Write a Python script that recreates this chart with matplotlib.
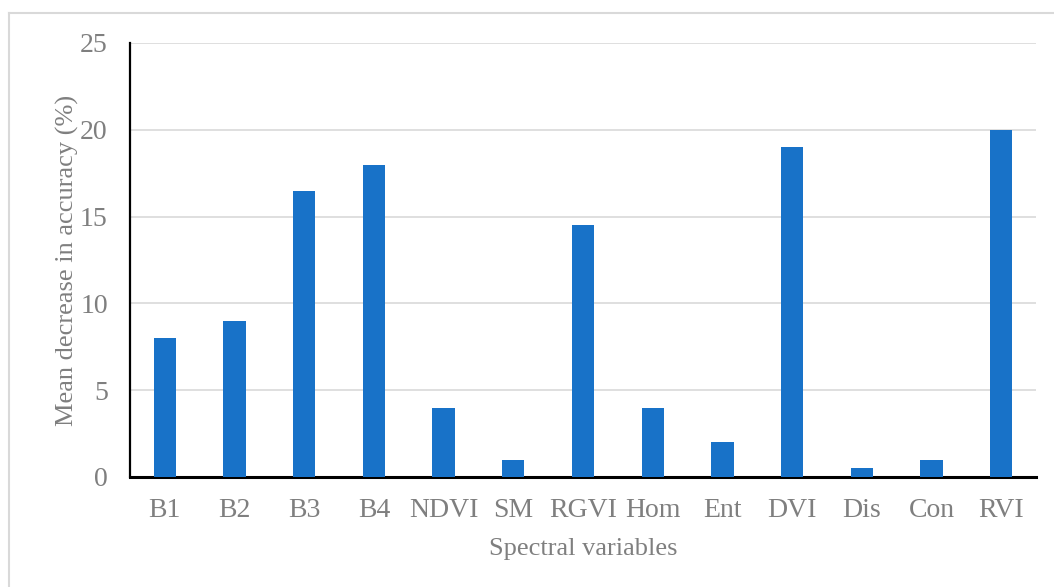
import numpy as np
import matplotlib.pyplot as plt
from matplotlib.lines import Line2D

categories = ["B1", "B2", "B3", "B4", "NDVI", "SM", "RGVI", "Hom", "Ent", "DVI", "Dis", "Con", "RVI"]
values = [8, 9, 16.5, 18, 4, 1, 14.5, 4, 2, 19, 0.5, 1, 20]
yticks = [0, 5, 10, 15, 20, 25]

W, H = 1054, 587
plt.rcParams['font.family'] = ['Liberation Serif', 'DejaVu Serif']
gray = '#7f7f7f'

fig = plt.figure(figsize=(W / 100, H / 100), dpi=100)
ax = fig.add_axes([130 / W, 1 - 477 / H, (1036 - 130) / W, (477 - 43) / H])

x = np.arange(len(categories))
ax.bar(x, values, width=0.32, color='#1872C8', zorder=3)

ax.set_xlim(-0.5, len(categories) - 0.5)
ax.set_ylim(0, 25)
ax.set_yticks(yticks)
ax.set_xticks(x)
ax.set_xticklabels(categories)
ax.yaxis.grid(True, color='#d9d9d9', linewidth=1.2, zorder=0)
ax.tick_params(axis='both', length=0, labelsize=20, labelcolor=gray)
ax.tick_params(axis='x', pad=15)
ax.tick_params(axis='y', pad=16)

for s in ['top', 'right']:
    ax.spines[s].set_visible(False)
ax.spines['left'].set_linewidth(1.6)
ax.spines['bottom'].set_linewidth(2.2)
ax.spines['left'].set_color('black')
ax.spines['bottom'].set_color('black')

ax.set_xlabel("Spectral variables", fontsize=19, color=gray, labelpad=11)
ax.set_ylabel("Mean decrease in accuracy (%)", fontsize=19, color=gray, labelpad=1)

# light frame around the chart area
fig.add_artist(Line2D([9 / W, 9 / W], [0, 1 - 13 / H], transform=fig.transFigure, color='#d9d9d9', linewidth=1.5))
fig.add_artist(Line2D([9 / W, 1], [1 - 13 / H, 1 - 13 / H], transform=fig.transFigure, color='#d9d9d9', linewidth=1.5))

fig.savefig("out.png", dpi=100)
